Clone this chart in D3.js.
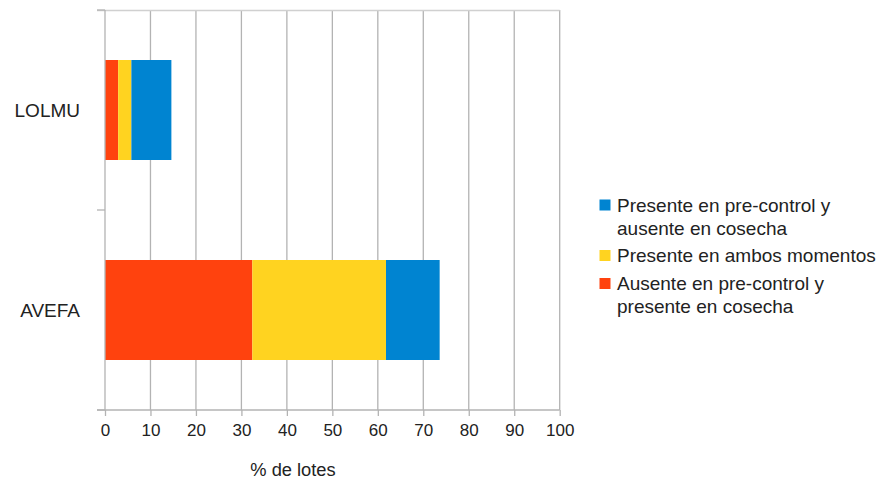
<!DOCTYPE html>
<html><head><meta charset="utf-8">
<script src="https://cdn.jsdelivr.net/npm/d3@7"></script>
<style>
html,body{margin:0;padding:0;background:#fff;}
text{font-family:"Liberation Sans",Arial,sans-serif;fill:#222;}
</style></head>
<body><svg id="c" width="888" height="482"></svg>
<script>
const categories = ["LOLMU", "AVEFA"];
const seriesNames = ["Ausente en pre-control y presente en cosecha", "Presente en ambos momentos", "Presente en pre-control y ausente en cosecha"];
const ausentePresente = [2.9, 32.4];
const ambosMomentos = [2.9, 29.4];
const presenteAusente = [8.8, 11.8];
const xTicks = [0,10,20,30,40,50,60,70,80,90,100];
const legendLines = [["Presente en pre-control y","ausente en cosecha"],["Presente en ambos momentos"],["Ausente en pre-control y","presente en cosecha"]];
const colors = ["#ff420e","#ffd320","#0084d1"];

const svg = d3.select("#c");
const x = d3.scaleLinear().domain([0,100]).range([105,559.7]);
const y = d3.scaleBand().domain(categories).range([10,410]).paddingInner(0.5).paddingOuter(0.25);

const rows = categories.map((c,i)=>({cat:c, v:[ausentePresente[i], ambosMomentos[i], presenteAusente[i]]}));
const stack = d3.stack().keys([0,1,2]).value((d,k)=>d.v[k])(rows);

// grid
svg.append("g").selectAll("line").data(xTicks.slice(1)).join("line")
  .attr("x1",d=>x(d)).attr("x2",d=>x(d)).attr("y1",10).attr("y2",410)
  .attr("stroke","#b3b3b3").attr("stroke-width",1.3);
svg.append("line").attr("x1",97).attr("x2",x(100)).attr("y1",10.5).attr("y2",10.5).attr("stroke","#d0d0d0").attr("stroke-width",1.3);

// bars
svg.append("g").selectAll("g").data(stack).join("g").attr("fill",(d,i)=>colors[i])
  .selectAll("rect").data(d=>d).join("rect")
  .attr("x",d=>x(d[0])).attr("width",d=>x(d[1])-x(d[0]))
  .attr("y",d=>y(d.data.cat)).attr("height",y.bandwidth());

// x axis
const xa = svg.append("g").attr("transform","translate(0,410)")
  .call(d3.axisBottom(x).tickValues(xTicks).tickSize(6).tickPadding(8));
xa.select(".domain").attr("stroke","#b3b3b3").attr("stroke-width",1.3).attr("d","M97,0H"+x(100));
xa.selectAll(".tick line").attr("stroke","#b3b3b3").attr("stroke-width",1.3);
xa.selectAll(".tick text").attr("font-size",17).attr("fill","#222").attr("font-family","Liberation Sans, Arial, sans-serif");

// y axis
const ya = svg.append("g").attr("transform","translate(105,0)");
ya.append("line").attr("x1",0).attr("x2",0).attr("y1",10).attr("y2",410).attr("stroke","#b3b3b3").attr("stroke-width",1.3);
ya.selectAll("line.t").data([10,210,410]).join("line").attr("class","t")
  .attr("x1",-8).attr("x2",0).attr("y1",d=>d).attr("y2",d=>d).attr("stroke","#b3b3b3").attr("stroke-width",1.3);
ya.selectAll("text").data(categories).join("text")
  .attr("x",-25).attr("y",d=>y(d)+y.bandwidth()/2).attr("dy","0.35em")
  .attr("text-anchor","end").attr("font-size",19).text(d=>d);

// axis title
svg.append("text").attr("x",293).attr("y",470).attr("dy","0.35em").attr("text-anchor","middle").attr("font-size",18.3).text("% de lotes");

// legend
const legColors = [colors[2],colors[1],colors[0]];
const legY = [205,255.5,283.5];
const lg = svg.append("g");
legendLines.forEach((lines,i)=>{
  lg.append("rect").attr("x",599.5).attr("y",legY[i]-5.5).attr("width",11).attr("height",11).attr("fill",legColors[i]);
  lines.forEach((t,j)=>{
    lg.append("text").attr("x",617).attr("y",legY[i]+j*23).attr("dy","0.35em").attr("font-size",19).text(t);
  });
});
</script></body></html>
